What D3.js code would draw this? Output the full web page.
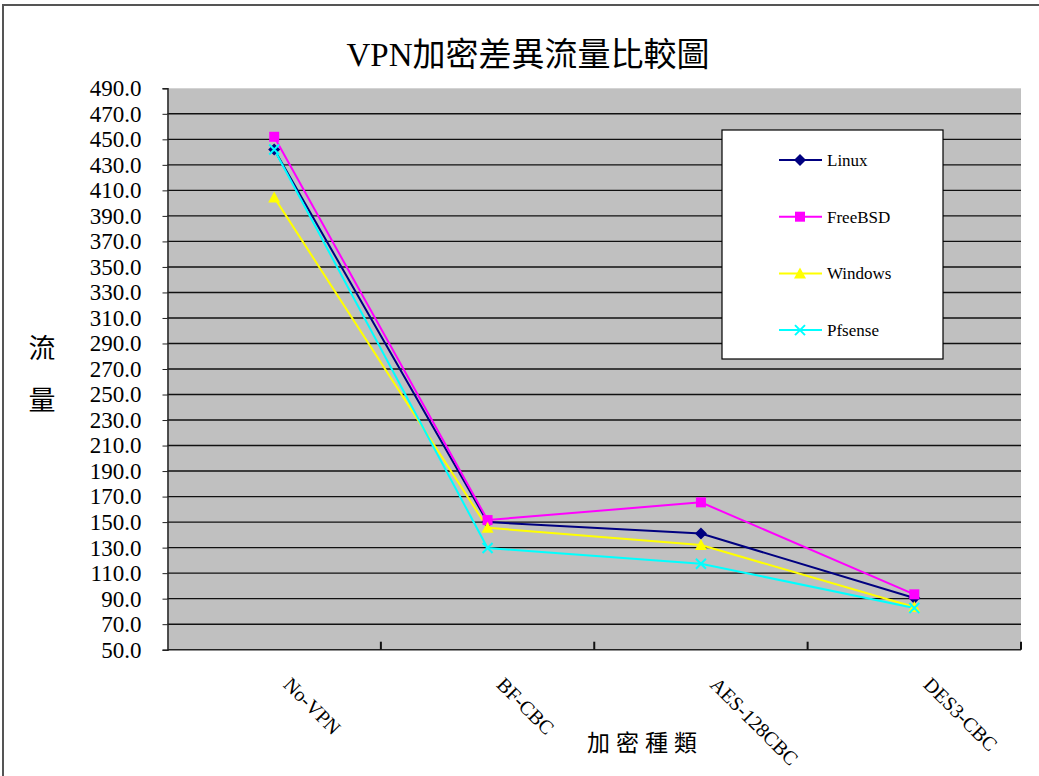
<!doctype html>
<html>
<head>
<meta charset="UTF-8">
<title>VPN加密差異流量比較圖</title>
<style>
  html, body { margin: 0; padding: 0; background: #fff; }
  svg text { font-family: "Liberation Serif", "Times New Roman", "DejaVu Serif", "Noto Sans CJK TC", serif; }
</style>
</head>
<body>
<div id="chart"></div>
<script src="https://cdn.jsdelivr.net/npm/d3@7"></script>
<script>
  // data
  var categories = ["No-VPN", "BF-CBC", "AES-128CBC", "DES3-CBC"];
  var linux   = [442, 150, 141, 90.5];
  var freebsd = [452, 151.6, 165.5, 93.4];
  var windows = [404.5, 145.6, 132, 83.5];
  var pfsense = [442, 129.7, 117.4, 82.7];
  var yTicks = d3.range(50, 491, 20);

  var series = [
    { name: "Linux",   values: linux,   color: "#000080", mark: "diamond" },
    { name: "FreeBSD", values: freebsd, color: "#ff00ff", mark: "square" },
    { name: "Windows", values: windows, color: "#ffff00", mark: "triangle" },
    { name: "Pfsense", values: pfsense, color: "#00ffff", mark: "cross" }
  ];

  var W = 1039, H = 776;
  var plot = { left: 167.5, right: 1021, top: 88.3, bottom: 649.7 };
  var serif = "'Liberation Serif', 'Times New Roman', 'DejaVu Serif', 'Noto Sans CJK TC', serif";

  var svg = d3.select("#chart").append("svg")
    .attr("width", W)
    .attr("height", H);

  // outer chart border
  svg.append("rect")
    .attr("x", 3).attr("y", 5)
    .attr("width", W + 10).attr("height", H + 10)
    .attr("fill", "#fff")
    .attr("stroke", "#555")
    .attr("stroke-width", 2);

  var x = d3.scaleBand().domain(categories).range([plot.left, plot.right]);
  var y = d3.scaleLinear().domain([50, 490]).range([plot.bottom, plot.top]);

  svg.append("rect")
    .attr("x", plot.left).attr("y", plot.top)
    .attr("width", plot.right - plot.left)
    .attr("height", plot.bottom - plot.top)
    .attr("fill", "#c0c0c0");

  // gridlines
  svg.append("g").selectAll("line")
    .data(yTicks.filter(function(d) { return d > 50 && d < 490; }))
    .join("line")
    .attr("x1", plot.left).attr("x2", plot.right)
    .attr("y1", function(d) { return y(d); })
    .attr("y2", function(d) { return y(d); })
    .attr("stroke", "#111")
    .attr("stroke-width", 1.4);

  // y axis
  var yAxis = svg.append("g")
    .attr("transform", "translate(" + plot.left + ",0)")
    .call(d3.axisLeft(y).tickValues(yTicks).tickFormat(d3.format(".1f")).tickSize(5).tickPadding(21));
  yAxis.attr("font-family", serif);
  yAxis.select(".domain").attr("stroke", "#222").attr("stroke-width", 1.5);
  yAxis.selectAll(".tick line").attr("stroke", "#222");
  yAxis.selectAll("text")
    .attr("font-size", 23)
    .attr("fill", "#000")
    .style("font-family", serif);

  // x axis
  var xAxis = svg.append("g")
    .attr("transform", "translate(0," + plot.bottom + ")");
  xAxis.append("line")
    .attr("x1", plot.left).attr("x2", plot.right)
    .attr("stroke", "#222").attr("stroke-width", 1.5);
  xAxis.selectAll(".tk")
    .data(categories.map(function(c) { return x(c) + x.bandwidth(); }))
    .join("line")
    .attr("class", "tk")
    .attr("x1", function(d) { return d; }).attr("x2", function(d) { return d; })
    .attr("y1", -8).attr("y2", 0)
    .attr("stroke", "#111").attr("stroke-width", 2);
  xAxis.selectAll("text")
    .data(categories)
    .join("text")
    .attr("transform", function(d) {
      return "translate(" + (x(d) + x.bandwidth() / 2 + 8) + ",36) rotate(45)";
    })
    .attr("font-size", 20)
    .attr("fill", "#000")
    .style("font-family", serif)
    .text(function(d) { return d; });

  // series
  var cx = function(i) { return x(categories[i]) + x.bandwidth() / 2; };
  var line = d3.line()
    .x(function(d, i) { return cx(i); })
    .y(function(d) { return y(d); });

  function drawMark(g, mark, color) {
    if (mark === "diamond") {
      g.append("path").attr("d", "M0,-6L6,0L0,6L-6,0Z").attr("fill", color);
    } else if (mark === "square") {
      g.append("rect").attr("x", -5).attr("y", -5).attr("width", 10).attr("height", 10).attr("fill", color);
    } else if (mark === "triangle") {
      g.append("path").attr("d", "M0,-6L6,5L-6,5Z").attr("fill", color);
    } else {
      g.append("path").attr("d", "M-5,-5L5,5M-5,5L5,-5")
        .attr("stroke", color).attr("stroke-width", 2).attr("fill", "none");
    }
  }

  series.forEach(function(s) {
    svg.append("path")
      .datum(s.values)
      .attr("d", line)
      .attr("fill", "none")
      .attr("stroke", s.color)
      .attr("stroke-width", 2);
  });
  series.forEach(function(s) {
    s.values.forEach(function(v, i) {
      var g = svg.append("g").attr("transform", "translate(" + cx(i) + "," + y(v) + ")");
      drawMark(g, s.mark, s.color);
    });
  });

  // legend
  var lg = svg.append("g").attr("transform", "translate(722,130)");
  lg.append("rect")
    .attr("width", 221).attr("height", 229)
    .attr("fill", "#fff").attr("stroke", "#000").attr("stroke-width", 1.2);
  series.forEach(function(s, i) {
    var row = lg.append("g").attr("transform", "translate(0," + (30 + i * 56.7) + ")");
    row.append("line").attr("x1", 57).attr("x2", 100)
      .attr("stroke", s.color).attr("stroke-width", 2);
    drawMark(row.append("g").attr("transform", "translate(78,0)"), s.mark, s.color);
    row.append("text")
      .attr("x", 105).attr("y", 6)
      .attr("font-size", 17)
      .attr("fill", "#000")
      .style("font-family", serif)
      .text(s.name);
  });

  // titles
  svg.append("text")
    .attr("x", 528).attr("y", 66)
    .attr("text-anchor", "middle")
    .attr("font-size", 33)
    .attr("fill", "#000")
    .style("font-family", serif)
    .text("VPN加密差異流量比較圖");

  svg.append("text")
    .attr("x", 42).attr("y", 358)
    .attr("text-anchor", "middle")
    .attr("font-size", 27)
    .attr("fill", "#000")
    .style("font-family", serif)
    .text("流");
  svg.append("text")
    .attr("x", 42).attr("y", 410)
    .attr("text-anchor", "middle")
    .attr("font-size", 27)
    .attr("fill", "#000")
    .style("font-family", serif)
    .text("量");

  svg.append("text")
    .attr("x", 645).attr("y", 751)
    .attr("text-anchor", "middle")
    .attr("font-size", 23)
    .attr("letter-spacing", 6)
    .attr("fill", "#000")
    .style("font-family", serif)
    .text("加密種類");
</script>
</body>
</html>
